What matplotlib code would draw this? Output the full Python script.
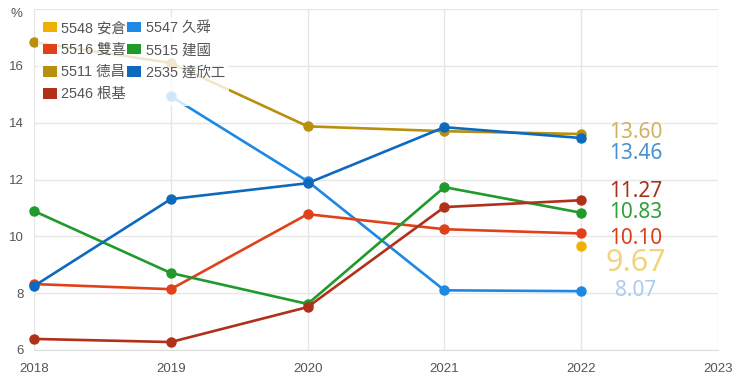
import matplotlib
matplotlib.use("Agg")
import matplotlib.pyplot as plt
from matplotlib.patches import Patch
import numpy as np

plt.rcParams['font.family'] = ['Liberation Sans', 'Noto Sans CJK TC', 'DejaVu Sans']

years = [2018, 2019, 2020, 2021, 2022]
nan = np.nan

names = ["5548 安倉", "5547 久舜", "5516 雙喜", "5515 建國", "5511 德昌", "2535 達欣工", "2546 根基"]
v5548 = [nan, nan, nan, nan, 9.67]
v5547 = [nan, 14.93, 11.94, 8.10, 8.07]
v5516 = [8.32, 8.14, 10.78, 10.25, 10.10]
v5515 = [10.89, 8.71, 7.62, 11.73, 10.83]
v5511 = [16.83, 16.10, 13.87, 13.70, 13.60]
v2535 = [8.25, 11.31, 11.87, 13.84, 13.46]
v2546 = [6.39, 6.28, 7.51, 11.03, 11.27]
series = [v5548, v5547, v5516, v5515, v5511, v2535, v2546]

colors = ["#F0B000", "#1E88E5", "#E0411B", "#1F9A2B", "#B8900C", "#0D69BE", "#B0301A"]
label_colors = ["#F0D580", "#A9CDF0", "#D8401A", "#2EA03A", "#D2B062", "#4A90D0", "#A83018"]
label_sizes = [22, 15, 15, 15, 15, 15, 15]
label_offsets = [-12.5, 0.5, -3.5, 0, 1.2, -11, 6]  # points

fig = plt.figure(figsize=(7.4, 3.82), dpi=100)
ax = fig.add_axes([34/740, 1-350/382, (718-34)/740, (350-9)/382])

for vals, c in zip(series, colors):
    ax.plot(years, vals, color=c, lw=1.9, marker='o', ms=6.5, zorder=3, clip_on=False)

for vals, c, s, off in zip(series, label_colors, label_sizes, label_offsets):
    last = vals[-1]
    ax.annotate(f"{last:.2f}", xy=(2022, last), xytext=(39, off), textcoords='offset points',
                ha='center', va='center', color=c, fontsize=s, family=['Noto Sans', 'DejaVu Sans'],
                zorder=4)

ax.set_xlim(2018, 2023)
ax.set_ylim(6, 18)
ax.set_xticks([2018, 2019, 2020, 2021, 2022, 2023])
ax.set_yticks([6, 8, 10, 12, 14, 16, 18])
ax.set_yticklabels(["6", "8", "10", "12", "14", "16", ""])
ax.grid(True, color="#E6E6E6", lw=1)
ax.set_axisbelow(True)
for s in ['top', 'right', 'left']:
    ax.spines[s].set_visible(False)
ax.spines['bottom'].set_color("#DDDDDD")
ax.tick_params(axis='both', length=0, labelsize=9.5, colors="#555555")
ax.tick_params(axis='x', pad=9)
ax.tick_params(axis='y', pad=7.5)
fig.text(22/740, 1-14/382, "%", ha='right', va='center', fontsize=9.5, color="#555555")

order = [0, 2, 4, 6, 1, 3, 5]
handles = [Patch(facecolor=colors[i], edgecolor='none') for i in order]
labels = [names[i] for i in order]
leg = ax.legend(handles, labels, ncol=2, loc='upper left', bbox_to_anchor=(0.0, 0.99),
                fontsize=10.4, frameon=True, handlelength=1.0, handleheight=0.75,
                handletextpad=0.3, columnspacing=0.05, labelspacing=0.56, borderpad=0.3,
                borderaxespad=0.3)
leg.get_frame().set_facecolor('white')
leg.get_frame().set_alpha(0.8)
leg.get_frame().set_edgecolor('none')
for t in leg.get_texts():
    t.set_color("#555555")

fig.savefig("out.png", dpi=100)
